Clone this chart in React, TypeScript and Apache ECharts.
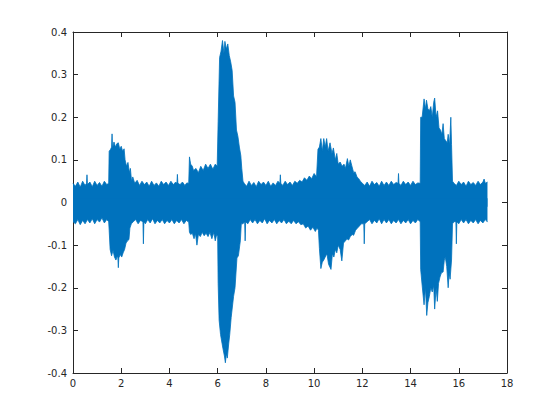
import React, { useEffect, useRef } from "react";
import * as echarts from "echarts";

const X_TICKS = { min: 0, max: 18, interval: 2 };
const Y_TICKS = { min: -0.4, max: 0.4, interval: 0.1 };

// Upper envelope of the waveform [time s, amplitude]
const UPPER: [number, number][] = [
  [0.0, 0.045], [0.1, 0.038], [0.2, 0.048], [0.3, 0.036], [0.4, 0.05], [0.5, 0.04],
  [0.56, 0.045], [0.58, 0.065], [0.6, 0.042], [0.7, 0.048], [0.8, 0.037], [0.9, 0.05],
  [1.0, 0.04], [1.1, 0.047], [1.2, 0.038], [1.3, 0.05], [1.4, 0.042], [1.48, 0.045],
  [1.5, 0.12], [1.56, 0.125], [1.6, 0.13], [1.62, 0.161], [1.64, 0.128], [1.7, 0.142],
  [1.76, 0.13], [1.82, 0.138], [1.88, 0.14], [1.94, 0.125], [2.0, 0.132], [2.06, 0.12],
  [2.12, 0.126], [2.16, 0.1], [2.22, 0.085], [2.28, 0.094], [2.34, 0.07], [2.38, 0.08],
  [2.43, 0.05], [2.48, 0.06], [2.56, 0.045], [2.66, 0.052], [2.76, 0.04], [2.86, 0.05],
  [2.96, 0.042], [3.06, 0.048], [3.16, 0.038], [3.26, 0.05], [3.36, 0.04], [3.46, 0.046],
  [3.56, 0.038], [3.66, 0.05], [3.76, 0.042], [3.86, 0.048], [3.96, 0.04], [4.06, 0.05],
  [4.16, 0.042], [4.26, 0.048], [4.31, 0.045], [4.33, 0.066], [4.35, 0.045], [4.44, 0.042],
  [4.54, 0.048], [4.64, 0.04], [4.72, 0.046], [4.8, 0.045],
  [4.83, 0.107], [4.88, 0.09], [4.95, 0.085], [5.0, 0.075], [5.1, 0.08], [5.2, 0.07],
  [5.3, 0.085], [5.4, 0.075], [5.5, 0.09], [5.6, 0.08], [5.7, 0.09], [5.8, 0.078],
  [5.9, 0.09], [5.98, 0.085],
  [6.02, 0.19], [6.08, 0.34], [6.14, 0.355], [6.2, 0.38], [6.26, 0.35], [6.3, 0.378],
  [6.36, 0.36], [6.42, 0.372], [6.48, 0.345], [6.54, 0.33], [6.6, 0.31], [6.66, 0.25],
  [6.72, 0.235], [6.78, 0.17], [6.84, 0.155], [6.9, 0.13], [6.96, 0.11], [7.0, 0.08],
  [7.05, 0.05], [7.1, 0.045], [7.2, 0.038], [7.3, 0.05], [7.4, 0.04], [7.5, 0.047],
  [7.6, 0.037], [7.7, 0.05], [7.8, 0.042], [7.9, 0.048], [8.0, 0.04], [8.1, 0.05],
  [8.2, 0.038], [8.3, 0.046], [8.4, 0.04], [8.5, 0.05], [8.58, 0.045], [8.6, 0.065],
  [8.62, 0.045], [8.7, 0.04], [8.8, 0.05], [8.9, 0.042], [9.0, 0.048], [9.1, 0.04],
  [9.2, 0.05], [9.3, 0.045], [9.4, 0.052], [9.5, 0.048], [9.6, 0.058], [9.7, 0.052],
  [9.8, 0.062], [9.9, 0.056], [10.0, 0.068], [10.1, 0.06],
  [10.16, 0.125], [10.22, 0.13], [10.28, 0.15], [10.34, 0.12], [10.4, 0.15], [10.46, 0.13],
  [10.52, 0.15], [10.58, 0.12], [10.66, 0.14], [10.74, 0.115], [10.8, 0.128], [10.88, 0.1],
  [10.94, 0.115], [11.0, 0.09], [11.08, 0.095], [11.16, 0.085], [11.24, 0.09], [11.3, 0.08],
  [11.38, 0.103], [11.44, 0.085], [11.5, 0.1], [11.56, 0.087], [11.64, 0.07], [11.7, 0.072],
  [11.78, 0.06], [11.85, 0.056], [11.92, 0.05], [12.0, 0.045],
  [12.1, 0.04], [12.2, 0.048], [12.3, 0.038], [12.4, 0.05], [12.5, 0.042], [12.6, 0.047],
  [12.7, 0.038], [12.8, 0.05], [12.9, 0.04], [13.0, 0.048], [13.1, 0.04], [13.2, 0.05],
  [13.3, 0.042], [13.4, 0.047], [13.48, 0.045], [13.5, 0.068], [13.52, 0.045], [13.6, 0.04],
  [13.7, 0.05], [13.8, 0.042], [13.9, 0.048], [14.0, 0.04], [14.1, 0.05], [14.2, 0.042],
  [14.3, 0.046], [14.4, 0.045],
  [14.42, 0.2], [14.48, 0.2], [14.56, 0.243], [14.62, 0.22], [14.66, 0.24], [14.72, 0.22],
  [14.78, 0.215], [14.84, 0.225], [14.9, 0.2], [14.96, 0.235], [15.0, 0.245], [15.06, 0.2],
  [15.12, 0.215], [15.18, 0.175], [15.24, 0.17], [15.3, 0.16], [15.35, 0.185], [15.4, 0.15],
  [15.46, 0.145], [15.52, 0.14], [15.56, 0.16], [15.62, 0.135], [15.67, 0.2], [15.7, 0.136],
  [15.74, 0.05],
  [15.8, 0.045], [15.9, 0.04], [16.0, 0.05], [16.1, 0.042], [16.2, 0.048], [16.3, 0.038],
  [16.4, 0.05], [16.5, 0.042], [16.6, 0.047], [16.7, 0.04], [16.8, 0.05], [16.9, 0.042],
  [17.0, 0.048], [17.05, 0.055], [17.1, 0.045], [17.19, 0.048],
];

// Lower envelope of the waveform [time s, amplitude]
const LOWER: [number, number][] = [
  [0.0, -0.045], [0.1, -0.05], [0.2, -0.04], [0.3, -0.052], [0.4, -0.042], [0.5, -0.05],
  [0.6, -0.04], [0.7, -0.048], [0.8, -0.038], [0.9, -0.05], [1.0, -0.04], [1.1, -0.046],
  [1.2, -0.036], [1.3, -0.048], [1.4, -0.04], [1.48, -0.045],
  [1.5, -0.065], [1.54, -0.11], [1.6, -0.125], [1.66, -0.112], [1.72, -0.128], [1.78, -0.135],
  [1.84, -0.125], [1.86, -0.13], [1.88, -0.153], [1.9, -0.13], [1.96, -0.122], [2.02, -0.128],
  [2.08, -0.118], [2.14, -0.11], [2.2, -0.095], [2.26, -0.09], [2.32, -0.087], [2.36, -0.06],
  [2.42, -0.05], [2.5, -0.045], [2.6, -0.04], [2.7, -0.05], [2.8, -0.042], [2.9, -0.045],
  [2.92, -0.097], [2.94, -0.045], [3.0, -0.05], [3.1, -0.04], [3.2, -0.048], [3.3, -0.038],
  [3.4, -0.05], [3.5, -0.042], [3.6, -0.048], [3.7, -0.04], [3.8, -0.05], [3.9, -0.042],
  [4.0, -0.048], [4.1, -0.04], [4.2, -0.05], [4.3, -0.042], [4.4, -0.048], [4.5, -0.04],
  [4.6, -0.05], [4.7, -0.042], [4.8, -0.046],
  [4.83, -0.07], [4.88, -0.075], [4.95, -0.072], [5.02, -0.085], [5.08, -0.073], [5.14, -0.1],
  [5.2, -0.075], [5.28, -0.08], [5.36, -0.07], [5.44, -0.078], [5.52, -0.072], [5.6, -0.08],
  [5.68, -0.07], [5.76, -0.085], [5.84, -0.07], [5.9, -0.09], [5.96, -0.075], [6.0, -0.08],
  [6.02, -0.19], [6.06, -0.276], [6.12, -0.31], [6.18, -0.33], [6.22, -0.343], [6.28, -0.36],
  [6.32, -0.376], [6.36, -0.355], [6.4, -0.365], [6.46, -0.33], [6.5, -0.31], [6.56, -0.27],
  [6.6, -0.25], [6.66, -0.22], [6.72, -0.2], [6.8, -0.13], [6.86, -0.125], [6.94, -0.09],
  [6.98, -0.05], [7.05, -0.05], [7.12, -0.045], [7.14, -0.09], [7.16, -0.045], [7.25, -0.05],
  [7.35, -0.04], [7.45, -0.048], [7.55, -0.04], [7.65, -0.05], [7.75, -0.042], [7.85, -0.048],
  [7.95, -0.038], [8.05, -0.05], [8.15, -0.042], [8.25, -0.048], [8.35, -0.04], [8.45, -0.05],
  [8.55, -0.042], [8.65, -0.048], [8.75, -0.04], [8.85, -0.05], [8.95, -0.044], [9.05, -0.05],
  [9.15, -0.042], [9.25, -0.05], [9.35, -0.045], [9.45, -0.052], [9.55, -0.05], [9.65, -0.06],
  [9.75, -0.055], [9.85, -0.065], [9.95, -0.058], [10.05, -0.068], [10.12, -0.06],
  [10.18, -0.065], [10.22, -0.108], [10.28, -0.155], [10.34, -0.14], [10.4, -0.135], [10.46, -0.128],
  [10.53, -0.12], [10.6, -0.145], [10.7, -0.157], [10.76, -0.12], [10.82, -0.128], [10.88, -0.11],
  [10.94, -0.118], [11.0, -0.1], [11.08, -0.11], [11.15, -0.137], [11.22, -0.095], [11.3, -0.09],
  [11.36, -0.085], [11.43, -0.088], [11.5, -0.08], [11.58, -0.075], [11.64, -0.077], [11.72, -0.065],
  [11.8, -0.06], [11.88, -0.055], [11.96, -0.05], [12.06, -0.05], [12.08, -0.097], [12.1, -0.05],
  [12.2, -0.045], [12.3, -0.04], [12.4, -0.05], [12.5, -0.042], [12.6, -0.048], [12.7, -0.038],
  [12.8, -0.05], [12.9, -0.04], [13.0, -0.048], [13.1, -0.04], [13.2, -0.05], [13.3, -0.042],
  [13.4, -0.048], [13.5, -0.04], [13.6, -0.05], [13.7, -0.042], [13.8, -0.048], [13.9, -0.04],
  [14.0, -0.05], [14.1, -0.042], [14.2, -0.048], [14.3, -0.04], [14.4, -0.045],
  [14.42, -0.157], [14.48, -0.194], [14.56, -0.24], [14.62, -0.2], [14.67, -0.265], [14.72, -0.235],
  [14.78, -0.22], [14.84, -0.2], [14.9, -0.21], [14.96, -0.195], [15.0, -0.25], [15.06, -0.2],
  [15.11, -0.232], [15.16, -0.19], [15.22, -0.175], [15.28, -0.165], [15.35, -0.163], [15.4, -0.135],
  [15.44, -0.128], [15.5, -0.15], [15.56, -0.2], [15.6, -0.165], [15.64, -0.18], [15.7, -0.135],
  [15.74, -0.05],
  [15.8, -0.045], [15.88, -0.045], [15.9, -0.097], [15.92, -0.045], [16.0, -0.05], [16.1, -0.04],
  [16.2, -0.048], [16.3, -0.04], [16.4, -0.05], [16.5, -0.042], [16.6, -0.048], [16.7, -0.04],
  [16.8, -0.05], [16.9, -0.042], [17.0, -0.048], [17.1, -0.04], [17.19, -0.046],
];

const BLUE = "#0072BD";
const AXIS = "#262626";

export default function App() {
  const ref = useRef<HTMLDivElement>(null);
  useEffect(() => {
    document.body.style.margin = "0";
    if (!ref.current) return;
    const chart = echarts.init(ref.current, undefined, { renderer: "svg" });
    const lineStyle = { color: AXIS, width: 1 };
    const label = { color: AXIS, fontSize: 10, fontFamily: "DejaVu Sans" };
    const xBase = {
      type: "value" as const,
      ...X_TICKS,
      splitLine: { show: false },
      axisLine: { show: true, onZero: false, lineStyle },
      axisTick: { show: true, inside: true, length: 5, lineStyle },
    };
    const yBase = {
      type: "value" as const,
      ...Y_TICKS,
      splitLine: { show: false },
      axisLine: { show: true, onZero: false, lineStyle },
      axisTick: { show: true, inside: true, length: 5, lineStyle },
    };
    chart.setOption({
      animation: false,
      backgroundColor: "#ffffff",
      grid: { left: 73, right: 53, top: 32, bottom: 47, containLabel: false },
      xAxis: [
        { ...xBase, position: "bottom", axisLabel: { ...label, margin: 5 } },
        { ...xBase, position: "top", axisLabel: { show: false } },
      ],
      yAxis: [
        {
          ...yBase,
          position: "left",
          axisLabel: {
            ...label,
            margin: 6,
            formatter: (v: number) => String(Math.round(v * 10) / 10),
          },
        },
        { ...yBase, position: "right", axisLabel: { show: false } },
      ],
      series: [
        {
          type: "line",
          data: UPPER,
          xAxisIndex: 0,
          yAxisIndex: 0,
          symbol: "none",
          lineStyle: { color: BLUE, width: 0.8 },
          areaStyle: { color: BLUE, opacity: 1, origin: -0.01 },
        },
        {
          type: "line",
          data: LOWER,
          xAxisIndex: 0,
          yAxisIndex: 0,
          symbol: "none",
          lineStyle: { color: BLUE, width: 0.8 },
          areaStyle: { color: BLUE, opacity: 1, origin: 0.01 },
        },
      ],
    });
    return () => chart.dispose();
  }, []);
  return <div ref={ref} style={{ width: 560, height: 420 }} />;
}
